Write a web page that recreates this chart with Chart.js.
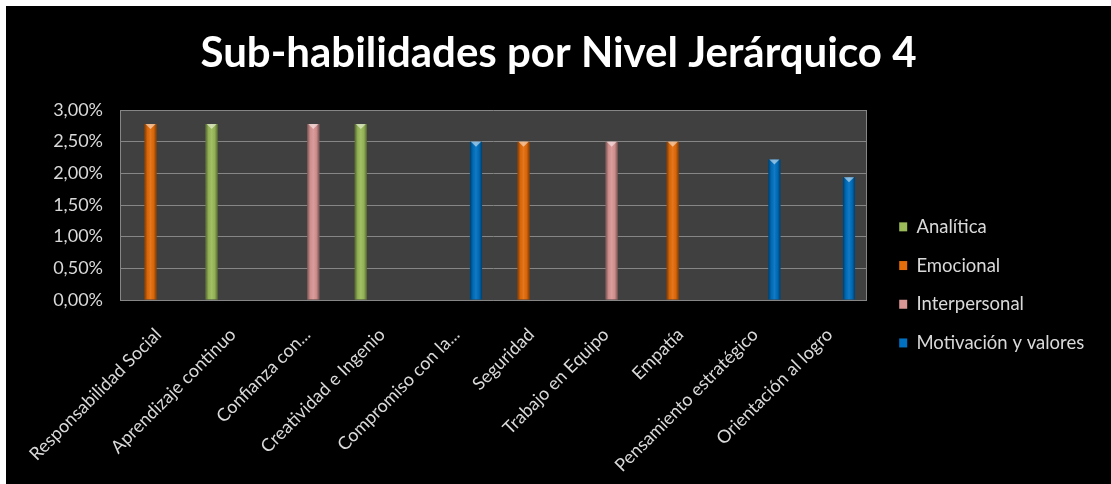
<!DOCTYPE html>
<html lang="es">
<head>
<meta charset="utf-8">
<title>Sub-habilidades por Nivel Jerárquico 4</title>
<script src="https://cdn.jsdelivr.net/npm/chart.js@4.4.1/dist/chart.umd.min.js"></script>
<style>
  html, body { margin: 0; padding: 0; background: #fff; }
  .chart-box {
    position: absolute;
    left: 6px;
    top: 6px;
    width: 1105px;
    height: 478px;
    background: #000;
  }
</style>
</head>
<body>
<div class="chart-box"><canvas id="nivelChart"></canvas></div>
<script>
// Datos del gráfico
const categorias = [
  'Responsabilidad Social',
  'Aprendizaje continuo',
  'Confianza con...',
  'Creatividad e Ingenio',
  'Compromiso con la...',
  'Seguridad',
  'Trabajo en Equipo',
  'Empatía',
  'Pensamiento estratégico',
  'Orientación al logro'
];
const series = ['Analítica', 'Emocional', 'Interpersonal', 'Motivación y valores'];
const analitica     = [null, 2.78, null, 2.78, null, null, null, null, null, null];
const emocional     = [2.78, null, null, null, null, 2.50, null, 2.50, null, null];
const interpersonal = [null, null, 2.78, null, null, null, 2.50, null, null, null];
const motivacion    = [null, null, null, null, 2.50, null, null, null, 2.22, 1.94];
const colores = ['#9BBB59', '#E46C0A', '#D99694', '#0070C0'];
const ejeY = { min: 0, max: 3, paso: 0.5 };

const FUENTE = 'Lato, "Open Sans", sans-serif';
const GRIS = '#868686';

// formato 2,50%
function formatoPorcentaje(v) {
  return v.toFixed(2).replace('.', ',') + '%';
}

// fondo gris del área de trazado y marco derecho
const fondoArea = {
  id: 'fondoArea',
  beforeDraw(chart) {
    const { ctx, chartArea: a } = chart;
    ctx.save();
    ctx.fillStyle = '#404040';
    ctx.fillRect(a.left, a.top, a.right - a.left, a.bottom - a.top);
    ctx.restore();
  },
  afterDraw(chart) {
    const { ctx, chartArea: a } = chart;
    ctx.save();
    ctx.strokeStyle = GRIS;
    ctx.lineWidth = 1;
    ctx.beginPath();
    ctx.moveTo(Math.round(a.right) + 0.5, a.top);
    ctx.lineTo(Math.round(a.right) + 0.5, a.bottom);
    ctx.stroke();
    ctx.restore();
  }
};

// sombreado lateral y tapa triangular de cada columna
const relieveBarras = {
  id: 'relieveBarras',
  afterDatasetsDraw(chart) {
    const ctx = chart.ctx;
    chart.data.datasets.forEach((ds, i) => {
      const meta = chart.getDatasetMeta(i);
      meta.data.forEach((bar, j) => {
        if (ds.data[j] == null) return;
        const w = bar.width;
        const x0 = bar.x - w / 2;
        const x1 = bar.x + w / 2;
        const top = bar.y;
        const base = bar.base;
        ctx.save();
        const g = ctx.createLinearGradient(x0, 0, x1, 0);
        g.addColorStop(0, 'rgba(0,0,0,0.45)');
        g.addColorStop(0.25, 'rgba(0,0,0,0.05)');
        g.addColorStop(0.5, 'rgba(255,255,255,0.08)');
        g.addColorStop(0.75, 'rgba(0,0,0,0.05)');
        g.addColorStop(1, 'rgba(0,0,0,0.45)');
        ctx.fillStyle = g;
        ctx.fillRect(x0, top, w, base - top);
        ctx.fillStyle = 'rgba(255,255,255,0.5)';
        ctx.beginPath();
        ctx.moveTo(x0 + 1, top);
        ctx.lineTo(x1 - 1, top);
        ctx.lineTo(bar.x, top + 5);
        ctx.closePath();
        ctx.fill();
        ctx.restore();
      });
    });
  }
};

// ancho fijo de la leyenda a la derecha
const anchoLeyenda = {
  id: 'anchoLeyenda',
  beforeInit(chart) {
    const legend = chart.legend;
    if (!legend) return;
    const fit = legend.fit;
    legend.fit = function () {
      fit.call(this);
      this.width = 232;
    };
  }
};

function initChart() {
  const ctx = document.getElementById('nivelChart').getContext('2d');
  const valores = [analitica, emocional, interpersonal, motivacion];

  new Chart(ctx, {
    type: 'bar',
    data: {
      labels: categorias,
      datasets: series.map((nombre, i) => ({
        label: nombre,
        data: valores[i],
        backgroundColor: colores[i],
        borderWidth: 0,
        categoryPercentage: 0.725,
        barPercentage: 0.9
      }))
    },
    options: {
      responsive: true,
      maintainAspectRatio: false,
      animation: false,
      layout: { padding: 0 },
      plugins: {
        title: {
          display: true,
          text: 'Sub-habilidades por Nivel Jerárquico 4',
          color: '#ffffff',
          font: { family: FUENTE, size: 42, weight: 'bold', lineHeight: 1.2 },
          padding: { top: 22.4, bottom: 31.2 }
        },
        legend: {
          position: 'right',
          align: 'start',
          // separador vacío para bajar las entradas
          title: {
            display: true,
            text: ' ',
            font: { size: 12, lineHeight: 1.2 },
            padding: { top: 177, bottom: 0 }
          },
          labels: {
            color: '#d9d9d9',
            boxWidth: 8,
            boxHeight: 9,
            padding: 20.2,
            font: { family: FUENTE, size: 18.5 }
          }
        },
        tooltip: { enabled: false }
      },
      scales: {
        x: {
          grid: { display: false, drawTicks: false },
          border: { display: true, color: GRIS, width: 1 },
          ticks: {
            color: '#d9d9d9',
            autoSkip: false,
            minRotation: 45,
            maxRotation: 45,
            padding: 24,
            labelOffset: 1,
            font: { family: FUENTE, size: 18 }
          },
          afterFit(scale) {
            scale.height = 184;
            // las etiquetas giradas no deben empujar el área de trazado
            scale.paddingLeft = 0;
            scale.paddingRight = 0;
          }
        },
        y: {
          min: ejeY.min,
          max: ejeY.max,
          grid: { color: GRIS, lineWidth: 1, drawTicks: false },
          border: { display: true, color: GRIS, width: 1 },
          ticks: {
            stepSize: ejeY.paso,
            color: '#d9d9d9',
            padding: 17,
            font: { family: FUENTE, size: 18 },
            callback: v => formatoPorcentaje(v)
          },
          afterFit(scale) { scale.width = 114; }
        },
        hueco: {
          position: 'right',
          display: true,
          grid: { display: false, drawTicks: false },
          border: { display: false },
          ticks: { display: false },
          afterFit(scale) { scale.width = 13; }
        }
      }
    },
    plugins: [fondoArea, relieveBarras, anchoLeyenda]
  });
}

if (document.readyState === 'loading') {
  document.addEventListener('DOMContentLoaded', initChart);
} else {
  initChart();
}
</script>
</body>
</html>
